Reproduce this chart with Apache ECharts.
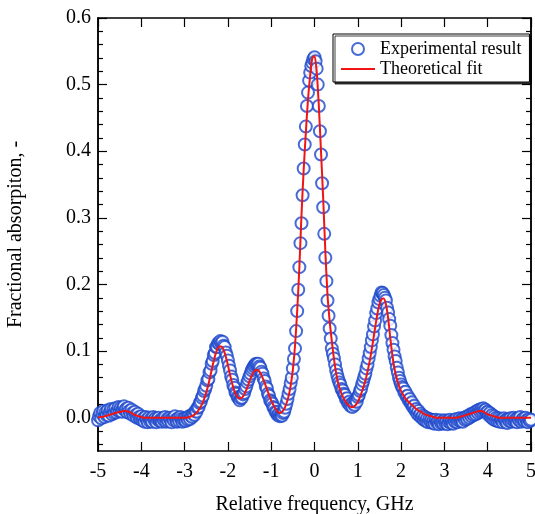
<!DOCTYPE html>
<html>
<head>
<meta charset="utf-8">
<script src="https://cdn.jsdelivr.net/npm/echarts@6/dist/echarts.min.js"></script>
<style>html,body{margin:0;padding:0;background:#fff}#c{width:535px;height:514px}</style>
</head>
<body>
<div id="c"></div>
<script>
// Experimental points: x = expStart + i*expStep
const expStart = -5, expStep = 0.025;
const expY = [
-0.004,0.002,0.007,-0.001,0.006,0.010,0.001,0.008,0.004,0.011,0.003,0.009,0.013,0.005,0.012,0.007,0.014,0.008,0.011,0.016,
0.010,0.015,0.009,0.014,0.017,0.011,0.013,0.008,0.015,0.010,0.006,0.012,0.007,0.003,0.009,0.004,0.000,0.006,0.001,-0.002,
0.002,-0.004,-0.001,-0.006,0.001,-0.003,-0.007,0.000,-0.005,-0.002,-0.006,0.001,-0.003,-0.001,-0.007,-0.002,0.000,-0.005,-0.003,-0.006,
-0.001,-0.004,0.001,-0.006,-0.002,-0.005,0.000,-0.003,-0.007,-0.001,-0.004,0.002,-0.003,-0.006,-0.001,-0.005,0.001,-0.002,-0.006,-0.003,
-0.001,-0.005,0.000,-0.003,0.002,-0.002,0.003,0.001,0.006,0.004,0.010,0.009,0.015,0.016,0.022,0.024,0.030,0.033,0.040,0.043,
0.048,0.056,0.058,0.068,0.071,0.081,0.085,0.094,0.097,0.106,0.106,0.112,0.111,0.115,0.112,0.114,0.108,0.106,0.098,0.093,
0.086,0.078,0.071,0.062,0.057,0.049,0.045,0.038,0.036,0.031,0.030,0.026,0.029,0.030,0.035,0.037,0.043,0.047,0.053,0.057,
0.062,0.066,0.071,0.074,0.077,0.079,0.081,0.080,0.081,0.077,0.075,0.069,0.066,0.059,0.055,0.047,0.044,0.036,0.033,0.026,
0.024,0.021,0.016,0.014,0.009,0.008,0.004,0.005,0.002,0.004,0.003,0.007,0.009,0.015,0.021,0.028,0.036,0.043,0.052,0.060,
0.074,0.088,0.104,0.130,0.160,0.192,0.226,0.262,0.292,0.334,0.374,0.410,0.437,0.468,0.488,0.506,0.518,0.528,0.533,0.538,
0.541,0.535,0.524,0.500,0.468,0.430,0.395,0.352,0.316,0.276,0.240,0.205,0.176,0.153,0.134,0.119,0.104,0.096,0.089,0.080,
0.071,0.064,0.058,0.053,0.049,0.043,0.041,0.036,0.034,0.028,0.029,0.022,0.024,0.018,0.021,0.016,0.022,0.019,0.026,0.024,
0.031,0.034,0.040,0.043,0.050,0.055,0.061,0.066,0.074,0.080,0.089,0.097,0.106,0.116,0.125,0.137,0.146,0.157,0.164,0.173,
0.178,0.183,0.188,0.187,0.184,0.180,0.176,0.165,0.158,0.148,0.138,0.124,0.112,0.102,0.092,0.085,0.075,0.068,0.060,0.055,
0.050,0.046,0.044,0.038,0.039,0.032,0.033,0.026,0.028,0.021,0.023,0.016,0.018,0.011,0.013,0.006,0.010,0.003,0.006,0.000,
0.003,-0.003,0.001,-0.005,-0.001,-0.007,-0.002,-0.006,-0.003,-0.008,-0.004,-0.009,-0.003,-0.007,-0.005,-0.010,-0.004,-0.008,-0.006,-0.009,
-0.004,-0.008,-0.005,-0.010,-0.006,-0.003,-0.008,-0.005,-0.009,-0.004,-0.006,-0.002,-0.007,-0.004,-0.001,-0.005,-0.002,-0.006,0.000,-0.003,
0.001,-0.002,0.003,0.000,0.005,0.002,0.006,0.004,0.008,0.005,0.010,0.007,0.012,0.009,0.013,0.010,0.014,0.011,0.012,0.008,
0.009,0.004,0.007,0.001,0.004,-0.002,0.002,-0.004,0.000,-0.005,-0.001,-0.006,-0.002,-0.004,-0.007,-0.001,-0.005,-0.003,-0.008,-0.002,
-0.005,-0.001,-0.006,-0.003,0.000,-0.005,-0.002,-0.007,-0.001,-0.004,0.001,-0.006,-0.003,-0.001,-0.005,0.000,-0.004,-0.007,-0.002,-0.005,
-0.003
];
// Theoretical fit: x = fitStart + i*fitStep
const fitStart = -5, fitStep = 0.05;
const fitY = [
0.000,0.001,0.001,0.002,0.003,0.004,0.005,0.006,0.007,0.008,
0.009,0.009,0.010,0.010,0.009,0.008,0.006,0.004,0.003,0.002,
0.001,0,0,0,0,0,0,0,0,0,
0,0,0,0,0,0,0,0,0,0,
0.000,0.000,0.001,0.002,0.003,0.006,0.009,0.014,0.020,0.028,
0.038,0.050,0.064,0.079,0.092,0.102,0.107,0.107,0.102,0.092,
0.079,0.064,0.051,0.040,0.033,0.029,0.029,0.032,0.038,0.046,
0.055,0.063,0.069,0.072,0.071,0.067,0.060,0.052,0.043,0.034,
0.026,0.019,0.013,0.009,0.007,0.009,0.013,0.021,0.032,0.048,
0.072,0.108,0.160,0.225,0.305,0.372,0.428,0.478,0.514,0.540,
0.543,0.520,0.468,0.400,0.330,0.250,0.185,0.145,0.115,0.088,
0.067,0.051,0.040,0.032,0.026,0.021,0.018,0.016,0.016,0.019,
0.024,0.031,0.040,0.050,0.062,0.077,0.094,0.114,0.135,0.155,
0.170,0.178,0.179,0.170,0.150,0.120,0.093,0.073,0.059,0.048,
0.040,0.034,0.029,0.025,0.022,0.019,0.016,0.013,0.011,0.009,
0.007,0.005,0.004,0.003,0.002,0.001,0,0,0,0,
0,0,0,0,0,0,0,0.001,0.002,0.003,
0.004,0.005,0.006,0.007,0.008,0.009,0.010,0.010,0.009,0.007,
0.005,0.004,0.003,0.002,0.001,0,0,0,0,0,
0,0,0,0,0,0,0,0,0,0,
0
];
const yMajor = [0, 0.1, 0.2, 0.3, 0.4, 0.5, 0.6];
const yMinor = [-0.04,-0.02,0.02,0.04,0.06,0.08,0.12,0.14,0.16,0.18,0.22,0.24,0.26,0.28,0.32,0.34,0.36,0.38,0.42,0.44,0.46,0.48,0.52,0.54,0.56,0.58];

const FONT = 'Liberation Serif';
const expData = expY.map((y, i) => [+(expStart + i * expStep).toFixed(3), y]);
const fitData = fitY.map((y, i) => [+(fitStart + i * fitStep).toFixed(3), y]);

const lineStyle = { color: '#000', width: 1.5 };
function yAx(pos, ticks, len, labels) {
  return {
    type: 'value', position: pos, min: -0.05, max: 0.6,
    axisLine: { show: true, onZero: false, lineStyle: lineStyle },
    axisTick: { show: true, inside: true, length: len, customValues: ticks, lineStyle: { color: '#000', width: 1.2 } },
    axisLabel: labels ? { show: true, customValues: yMajor, formatter: v => v.toFixed(1), fontFamily: FONT, fontSize: 20, color: '#000', margin: 7 } : { show: false },
    splitLine: { show: false }
  };
}
const chart = echarts.init(document.getElementById('c'), null, { renderer: 'canvas' });
chart.setOption({
  animation: false,
  backgroundColor: '#fff',
  grid: { left: 98, right: 4, top: 18, bottom: 63, containLabel: false, outerBoundsMode: 'none' },
  xAxis: [
    { type: 'value', position: 'bottom', min: -5, max: 5, interval: 1,
      axisLine: { show: true, onZero: false, lineStyle: lineStyle },
      axisTick: { show: true, inside: true, length: 9, lineStyle: { color: '#000', width: 1.2 } },
      axisLabel: { fontFamily: FONT, fontSize: 20, color: '#000', margin: 11 },
      splitLine: { show: false },
      name: 'Relative frequency, GHz', nameLocation: 'middle', nameGap: 44,
      nameTextStyle: { fontFamily: FONT, fontSize: 20, color: '#000' } },
    { type: 'value', position: 'top', min: -5, max: 5, interval: 1,
      axisLine: { show: true, onZero: false, lineStyle: lineStyle },
      axisTick: { show: true, inside: true, length: 9, lineStyle: { color: '#000', width: 1.2 } },
      axisLabel: { show: false }, splitLine: { show: false } }
  ],
  yAxis: [
    Object.assign(yAx('left', yMajor, 9, true), {
      name: 'Fractional absorpiton, -', nameLocation: 'middle', nameGap: 72, nameRotate: 90,
      nameTextStyle: { fontFamily: FONT, fontSize: 20, color: '#000' } }),
    yAx('right', yMajor, 9, false),
    yAx('left', yMinor, 5, false),
    yAx('right', yMinor, 5, false)
  ],
  legend: {
    orient: 'vertical', left: 333, top: 34,
    padding: [6, 8, 4, 7], itemGap: 2, itemWidth: 34, itemHeight: 12,
    backgroundColor: '#fff', borderColor: '#000', borderWidth: 1, borderRadius: 0,
    shadowColor: 'rgba(0,0,0,0.75)', shadowOffsetX: 2, shadowOffsetY: 2, shadowBlur: 0,
    textStyle: { fontFamily: FONT, fontSize: 18, color: '#000' },
    data: [
      { name: 'Experimental result' },
      { name: 'Theoretical fit', itemStyle: { opacity: 0 } }
    ]
  },
  series: [
    { name: 'Experimental result', type: 'scatter', data: expData,
      symbol: 'emptyCircle', symbolSize: 12,
      itemStyle: { color: '#1a46cc', borderColor: '#1a46cc', borderWidth: 1.1 },
      emphasis: { disabled: true } },
    { name: 'Theoretical fit', type: 'line', data: fitData, smooth: 0.25,
      symbol: 'none', showSymbol: false,
      lineStyle: { color: '#f01414', width: 2 }, itemStyle: { color: '#f01414' },
      emphasis: { disabled: true } }
  ]
});
</script>
</body>
</html>
